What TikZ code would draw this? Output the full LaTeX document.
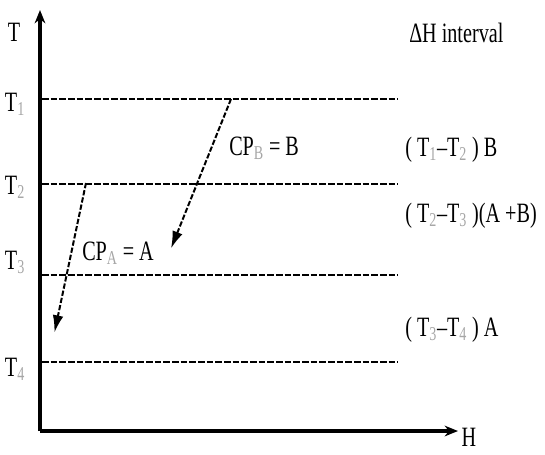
\documentclass[tikz,border=0pt]{standalone}
\usepackage{fontspec}
\setmainfont{Liberation Serif}[FakeStretch=0.72]
\usetikzlibrary{arrows.meta,positioning}
\newcommand{\sbt}[1]{\textsubscript{\color{black!35}#1}}

\begin{document}
\begin{tikzpicture}[x=0.75pt,y=-0.75pt,
  lbl/.style={font=\fontsize{21}{24}\selectfont,inner sep=0pt},
  axis/.style={line width=2.8pt,-{Stealth[length=10pt,width=8pt]}},
  level/.style={line width=2.2pt,dash pattern=on 5pt off 1.5pt},
  cool/.style={line width=1.5pt,dash pattern=on 4pt off 1.5pt,-{Latex[length=13pt,width=8pt]},shorten >=-2pt}]
\useasboundingbox (0,0) rectangle (545,454);
% axes
\coordinate (O) at (40,431);
\coordinate (Ttop) at (40,10);
\coordinate (Hend) at (458,431);
\draw[axis] (O)--(Ttop);
\draw[axis] (O)--(Hend);
\node[lbl] (Tlab) at (14,32) {T};
\node[lbl] (Hlab) at (469,437) {H};
% temperature levels
\foreach \i/\y/\ty in {1/99/104,2/184/187,3/275/262,4/362/369}{
\coordinate (L\i) at (42,\y);
\coordinate (R\i) at (398,\y);
\draw[level] (L\i)--(R\i);
\node[lbl] (T\i) at (15,\ty) {T\sbt{\i}};}
% streams
\coordinate (Bs) at (231,99);
\coordinate (Be) at (172,246);
\coordinate (As) at (86,183);
\coordinate (Ae) at (55,330);
\draw[cool] (Bs)--(Be);
\draw[cool] (As)--(Ae);
\node[lbl,anchor=west] (cpB) at (229,148) {CP\sbt{B} = B};
\node[lbl,anchor=west] (cpA) at (82,253) {CP\sbt{A} = A};
% intervals
\node[lbl,anchor=west] (dH) at (409,33) {ΔH interval};
\node[lbl,anchor=west] (I12) at (405,150) {( T\sbt{1}–T\sbt{2} ) B};
\node[lbl,anchor=west] (I23) at (405,216) {( T\sbt{2}–T\sbt{3} )(A +B)};
\node[lbl,anchor=west] (I34) at (405,330) {( T\sbt{3}–T\sbt{4} ) A};
\end{tikzpicture}
\end{document}
